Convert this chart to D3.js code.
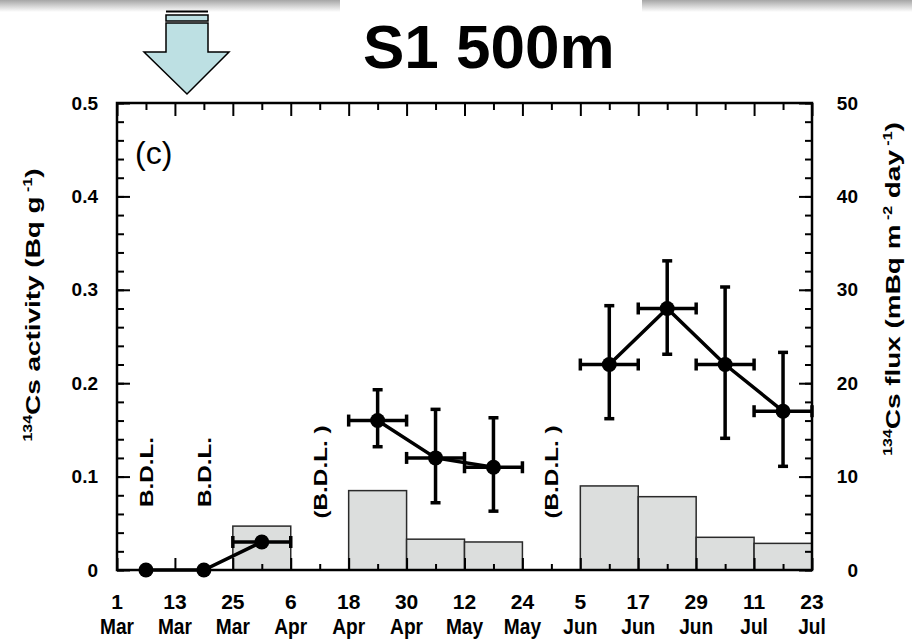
<!DOCTYPE html>
<html>
<head>
<meta charset="utf-8">
<script src="https://cdn.jsdelivr.net/npm/d3@7"></script>
<style>
    body { margin: 0; background: #fff; }
    svg { display: block; font-family: "Liberation Sans", Arial, Helvetica, sans-serif; }
</style>
</head>
<body>
<svg id="chart" width="912" height="641"></svg>
<script>
// sampling period edges (12 day bins) and bottom axis labels
const edgeDates = ["2011-03-01", "2011-03-13", "2011-03-25", "2011-04-06", "2011-04-18", "2011-04-30",
    "2011-05-12", "2011-05-24", "2011-06-05", "2011-06-17", "2011-06-29", "2011-07-11", "2011-07-23"];
const dayLabels = ["1", "13", "25", "6", "18", "30", "12", "24", "5", "17", "29", "11", "23"];
const monthLabels = ["Mar", "Mar", "Mar", "Apr", "Apr", "Apr", "May", "May", "Jun", "Jun", "Jun", "Jul", "Jul"];
const midDates = ["2011-03-07", "2011-03-19", "2011-03-31", "2011-04-12", "2011-04-24", "2011-05-06",
    "2011-05-18", "2011-05-30", "2011-06-11", "2011-06-23", "2011-07-05", "2011-07-17"];

// 134Cs flux bars (right axis, mBq m-2 day-1)
const fluxFrom = ["2011-03-25", "2011-04-18", "2011-04-30", "2011-05-12", "2011-06-05", "2011-06-17", "2011-06-29", "2011-07-11"];
const fluxTo = ["2011-04-06", "2011-04-30", "2011-05-12", "2011-05-24", "2011-06-17", "2011-06-29", "2011-07-11", "2011-07-23"];
const fluxValues = [4.7, 8.5, 3.3, 3.0, 9.0, 7.85, 3.5, 2.85];

// 134Cs activity points (left axis, Bq g-1)
const actDates = ["2011-03-07", "2011-03-19", "2011-03-31", "2011-04-24", "2011-05-06", "2011-05-18",
    "2011-06-11", "2011-06-23", "2011-07-05", "2011-07-17"];
const actValues = [0, 0, 0.03, 0.16, 0.12, 0.11, 0.22, 0.28, 0.22, 0.17];
const actLow = [null, null, 0.027, 0.132, 0.072, 0.063, 0.162, 0.231, 0.141, 0.111];
const actHigh = [null, null, 0.034, 0.193, 0.172, 0.163, 0.283, 0.331, 0.303, 0.233];
const actFrom = [null, null, "2011-03-25", "2011-04-18", "2011-04-30", "2011-05-12", "2011-06-05", "2011-06-17", "2011-06-29", "2011-07-11"];
const actTo = [null, null, "2011-04-06", "2011-04-30", "2011-05-12", "2011-05-24", "2011-06-17", "2011-06-29", "2011-07-11", "2011-07-23"];
const actSegment = [0, 0, 0, 1, 1, 1, 2, 2, 2, 2];

// below detection limit notes
const bdlDates = ["2011-03-07", "2011-03-19", "2011-04-12", "2011-05-30"];
const bdlTexts = ["B.D.L.", "B.D.L.", "(B.D.L. )", "(B.D.L. )"];

const yTicks = [0, 0.1, 0.2, 0.3, 0.4, 0.5];
const yTickLabels = ["0", "0.1", "0.2", "0.3", "0.4", "0.5"];
const yRTicks = [0, 10, 20, 30, 40, 50];
const yRTickLabels = ["0", "10", "20", "30", "40", "50"];

const parse = d3.utcParse("%Y-%m-%d");
const svg = d3.select("#chart");

const pLeft = 117, pRight = 812, pTop = 103, pBottom = 570;

let x = d3.scaleUtc()
    .domain([parse(edgeDates[0]), parse(edgeDates[edgeDates.length - 1])])
    .range([pLeft, pRight]);
let y = d3.scaleLinear().domain([0, 0.5]).range([pBottom, pTop]);
let yR = d3.scaleLinear().domain([0, 50]).range([pBottom, pTop]);

// slide header bands
let defs = svg.append("defs");
let grad = defs.append("linearGradient").attr("id", "band").attr("x1", 0).attr("x2", 0).attr("y1", 0).attr("y2", 1);
grad.append("stop").attr("offset", "0%").attr("stop-color", "#a6a6a6");
grad.append("stop").attr("offset", "100%").attr("stop-color", "#ffffff");
svg.append("rect").attr("x", 0).attr("y", 0).attr("width", 340).attr("height", 12).attr("fill", "url(#band)");
svg.append("rect").attr("x", 642).attr("y", 0).attr("width", 270).attr("height", 12).attr("fill", "url(#band)");

// arrow
let arrow = svg.append("g").attr("stroke", "#000").attr("fill", "#bde0e3");
arrow.append("line").attr("x1", 166).attr("x2", 208).attr("y1", 11.5).attr("y2", 11.5).attr("stroke-width", 2);
arrow.append("rect").attr("x", 166).attr("y", 15).attr("width", 42).attr("height", 6).attr("stroke-width", 1.5);
arrow.append("path")
    .attr("d", "M166,23 L208,23 L208,52 L229,52 L187,94 L144,52 L166,52 Z")
    .attr("stroke-width", 1.5);

// title
svg.append("text")
    .attr("x", 363).attr("y", 68)
    .attr("font-size", 62).attr("font-weight", "bold")
    .text("S1 500m");

// flux bars
svg.append("g")
    .selectAll("rect")
    .data(fluxValues)
    .enter().append("rect")
    .attr("x", function (d, i) { return x(parse(fluxFrom[i])); })
    .attr("width", function (d, i) { return x(parse(fluxTo[i])) - x(parse(fluxFrom[i])); })
    .attr("y", function (d) { return yR(d); })
    .attr("height", function (d) { return yR(0) - yR(d); })
    .attr("fill", "#dcdedd")
    .attr("stroke", "#2a2a2a")
    .attr("stroke-width", 1.5);

// ticks
function tickStyle(g) {
    g.select(".domain").remove();
    g.selectAll(".tick line").attr("stroke", "#000").attr("stroke-width", 2);
}
let edges = edgeDates.map(parse), mids = midDates.map(parse);

svg.append("g").attr("transform", "translate(0," + pTop + ")")
    .call(d3.axisTop(x).tickValues(edges).tickSize(-13).tickFormat("")).call(tickStyle);
svg.append("g").attr("transform", "translate(0," + pTop + ")")
    .call(d3.axisTop(x).tickValues(mids).tickSize(-7).tickFormat("")).call(tickStyle);
svg.append("g").attr("transform", "translate(0," + pBottom + ")")
    .call(d3.axisBottom(x).tickValues(edges).tickSize(-12).tickFormat("")).call(tickStyle);
svg.append("g").attr("transform", "translate(0," + pBottom + ")")
    .call(d3.axisBottom(x).tickValues(mids).tickSize(-6).tickFormat("")).call(tickStyle);

let minorY = y.ticks(25);
let minorYR = yR.ticks(25);

svg.append("g").attr("transform", "translate(" + pLeft + ",0)")
    .call(d3.axisLeft(y).tickValues(minorY).tickSize(-7).tickFormat("")).call(tickStyle);
let yAxis = svg.append("g").attr("transform", "translate(" + pLeft + ",0)")
    .call(d3.axisLeft(y).tickValues(yTicks).tickSize(-13).tickPadding(19)
        .tickFormat(function (d, i) { return yTickLabels[i]; }))
    .call(tickStyle);
yAxis.selectAll("text").attr("font-size", 19).attr("font-weight", "bold").attr("fill", "#000")
    .attr("font-family", "'Liberation Sans', Arial, sans-serif");

svg.append("g").attr("transform", "translate(" + pRight + ",0)")
    .call(d3.axisRight(yR).tickValues(minorYR).tickSize(-7).tickFormat("")).call(tickStyle);
let yRAxis = svg.append("g").attr("transform", "translate(" + pRight + ",0)")
    .call(d3.axisRight(yR).tickValues(yRTicks).tickSize(-13)
        .tickFormat(function (d, i) { return yRTickLabels[i]; }))
    .call(tickStyle);
yRAxis.selectAll("text").attr("x", 46).attr("text-anchor", "end")
    .attr("font-size", 19).attr("font-weight", "bold").attr("fill", "#000")
    .attr("font-family", "'Liberation Sans', Arial, sans-serif");

// bottom labels, two lines
let xLab = svg.append("g").attr("font-weight", "bold").attr("text-anchor", "middle");
xLab.selectAll("text.day")
    .data(edges)
    .enter().append("text")
    .attr("class", "day")
    .attr("x", function (d) { return x(d); })
    .attr("y", 609)
    .attr("font-size", 21)
    .text(function (d, i) { return dayLabels[i]; });
xLab.selectAll("text.mon")
    .data(edges)
    .enter().append("text")
    .attr("class", "mon")
    .attr("transform", function (d) { return "translate(" + x(d) + ",634) scale(0.87,1)"; })
    .attr("font-size", 22)
    .text(function (d, i) { return monthLabels[i]; });

// frame
svg.append("rect")
    .attr("x", pLeft).attr("y", pTop)
    .attr("width", pRight - pLeft).attr("height", pBottom - pTop)
    .attr("fill", "none").attr("stroke", "#000").attr("stroke-width", 2.5);

// activity series
let pts = actDates.map(function (d, i) {
    return {
        date: parse(d), v: actValues[i], lo: actLow[i], hi: actHigh[i],
        from: actFrom[i] ? parse(actFrom[i]) : null, to: actTo[i] ? parse(actTo[i]) : null,
        seg: actSegment[i]
    };
});
let line = d3.line()
    .x(function (d) { return x(d.date); })
    .y(function (d) { return y(d.v); });

let segs = d3.groups(pts, function (d) { return d.seg; });
svg.append("g")
    .selectAll("path")
    .data(segs)
    .enter().append("path")
    .attr("d", function (d) { return line(d[1]); })
    .attr("fill", "none")
    .attr("stroke", "#000")
    .attr("stroke-width", 3.5);

let err = svg.append("g").attr("stroke", "#000").attr("stroke-width", 3.5);
let withErr = pts.filter(function (d) { return d.lo !== null; });
withErr.forEach(function (d) {
    let cx = x(d.date), cy = y(d.v);
    err.append("line").attr("x1", cx).attr("x2", cx).attr("y1", y(d.lo)).attr("y2", y(d.hi));
    err.append("line").attr("x1", cx - 5).attr("x2", cx + 5).attr("y1", y(d.lo)).attr("y2", y(d.lo));
    err.append("line").attr("x1", cx - 5).attr("x2", cx + 5).attr("y1", y(d.hi)).attr("y2", y(d.hi));
    err.append("line").attr("x1", x(d.from)).attr("x2", x(d.to)).attr("y1", cy).attr("y2", cy);
    err.append("line").attr("x1", x(d.from)).attr("x2", x(d.from)).attr("y1", cy - 6).attr("y2", cy + 6);
    err.append("line").attr("x1", x(d.to)).attr("x2", x(d.to)).attr("y1", cy - 6).attr("y2", cy + 6);
});

svg.append("g")
    .selectAll("circle")
    .data(pts)
    .enter().append("circle")
    .attr("cx", function (d) { return x(d.date); })
    .attr("cy", function (d) { return y(d.v); })
    .attr("r", 7.5)
    .attr("fill", "#000");

// B.D.L. notes (glyphs stretched along the text like the original)
svg.append("g")
    .selectAll("text")
    .data(bdlTexts)
    .enter().append("text")
    .attr("transform", function (d, i) {
        return "translate(" + (x(parse(bdlDates[i])) + 7) + ",472) rotate(-90) scale(1.28,1)";
    })
    .attr("text-anchor", "middle")
    .attr("font-size", 19)
    .attr("font-weight", "bold")
    .text(function (d) { return d; });

// panel letter
svg.append("text").attr("x", 135).attr("y", 164).attr("font-size", 32).text("(c)");

// axis titles
function title(g, parts) {
    parts.forEach(function (p) {
        g.append("tspan")
            .attr("font-size", p.sup ? 12 : 21)
            .attr("dy", p.dy)
            .text(p.t);
    });
}
let lt = svg.append("text")
    .attr("transform", "translate(40,305) rotate(-90) scale(1.33,1)")
    .attr("text-anchor", "middle").attr("font-weight", "bold");
title(lt, [
    { t: "134", sup: true, dy: -8 },
    { t: "Cs activity (Bq g", dy: 8 },
    { t: " -1", sup: true, dy: -8 },
    { t: ")", dy: 8 }
]);
let rt = svg.append("text")
    .attr("transform", "translate(900,289) rotate(-90) scale(1.33,1)")
    .attr("text-anchor", "middle").attr("font-weight", "bold");
title(rt, [
    { t: "134", sup: true, dy: -8 },
    { t: "Cs flux (mBq m", dy: 8 },
    { t: " -2", sup: true, dy: -8 },
    { t: " day", dy: 8 },
    { t: " -1", sup: true, dy: -8 },
    { t: ")", dy: 8 }
]);
</script>
</body>
</html>
